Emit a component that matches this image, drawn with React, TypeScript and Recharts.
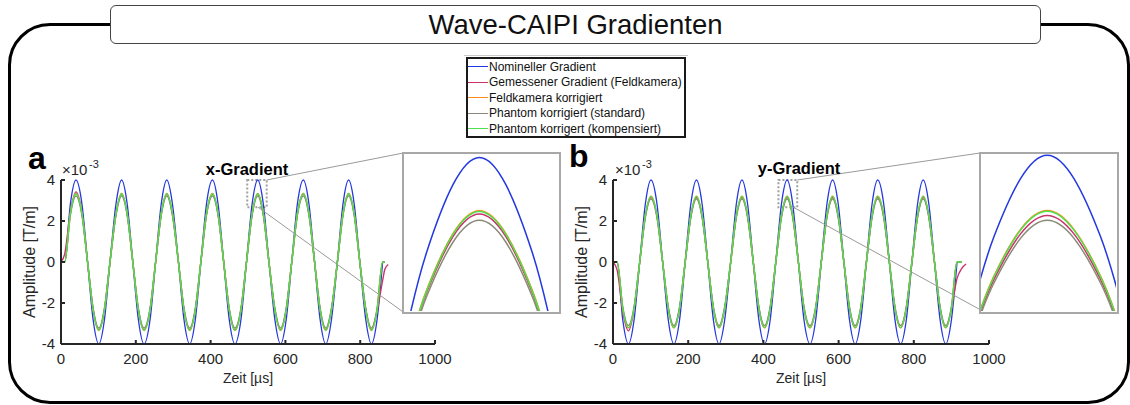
import React from "react";
import { LineChart, Line, XAxis, YAxis, Legend, ReferenceArea, ReferenceLine } from "recharts";

const FONT = '"Liberation Sans", Arial, Helvetica, sans-serif';
const INK = "#262626";

// Zeitachsen in µs, Amplituden in 10^-3 T/m
const A_TIME = [
  0, 10,
  25, 40, 56, 71, 86, 101, 116, 131,
  147, 162, 177, 192, 207, 222, 238, 253,
  268, 283, 298, 314, 329, 344, 359, 374,
  389, 405, 420, 435, 450, 465, 481, 496,
  511, 526, 541, 556, 572, 587, 602, 617,
  632, 648, 663, 678, 693, 708, 723, 739,
  754, 769, 784, 799, 815, 830, 845, 860,
  866, 875,
];

const A_NOM = [
  0, 0,
  2.83, 4, 2.83, 0, -2.83, -4, -2.83, 0,
  2.83, 4, 2.83, 0, -2.83, -4, -2.83, 0,
  2.83, 4, 2.83, 0, -2.83, -4, -2.83, 0,
  2.83, 4, 2.83, 0, -2.83, -4, -2.83, 0,
  2.83, 4, 2.83, 0, -2.83, -4, -2.83, 0,
  2.83, 4, 2.83, 0, -2.83, -4, -2.83, 0,
  2.83, 4, 2.83, 0, -2.83, -4, -2.83, 0,
  null, null,
];

const A_MESS = [
  0, 0.4,
  2.45, 3.42, 2.4, 0.02, -2.31, -3.3, -2.33, 0,
  2.33, 3.31, 2.33, 0, -2.33, -3.3, -2.33, 0,
  2.33, 3.31, 2.33, 0, -2.33, -3.3, -2.33, 0,
  2.33, 3.31, 2.33, 0, -2.33, -3.3, -2.33, 0,
  2.33, 3.3, 2.33, 0, -2.33, -3.3, -2.33, 0,
  2.33, 3.31, 2.33, 0, -2.33, -3.3, -2.33, 0,
  2.33, 3.31, 2.33, 0, -2.33, -3.3, -2.4, -0.9,
  -0.35, -0.12,
];

const A_FELD = [
  0, 0,
  2.36, 3.34, 2.36, 0, -2.36, -3.34, -2.36, 0,
  2.36, 3.34, 2.36, 0, -2.36, -3.34, -2.36, 0,
  2.36, 3.34, 2.36, 0, -2.36, -3.34, -2.36, 0,
  2.36, 3.34, 2.36, 0, -2.36, -3.34, -2.36, 0,
  2.36, 3.34, 2.36, 0, -2.36, -3.34, -2.36, 0,
  2.36, 3.34, 2.36, 0, -2.36, -3.34, -2.36, 0,
  2.36, 3.34, 2.36, 0, -2.36, -3.34, -2.36, 0,
  0, null,
];

const A_STD = [
  0, 0,
  2.28, 3.22, 2.28, 0, -2.28, -3.22, -2.28, 0,
  2.28, 3.22, 2.28, 0, -2.28, -3.22, -2.28, 0,
  2.28, 3.22, 2.28, 0, -2.28, -3.22, -2.28, 0,
  2.28, 3.22, 2.28, 0, -2.28, -3.22, -2.28, 0,
  2.28, 3.22, 2.28, 0, -2.28, -3.22, -2.28, 0,
  2.28, 3.22, 2.28, 0, -2.28, -3.22, -2.28, 0,
  2.28, 3.22, 2.28, 0, -2.28, -3.22, -2.28, 0,
  0, null,
];

const A_KOMP = [
  0, 0,
  2.35, 3.33, 2.35, 0, -2.35, -3.33, -2.35, 0,
  2.35, 3.33, 2.35, 0, -2.35, -3.33, -2.35, 0,
  2.35, 3.33, 2.35, 0, -2.35, -3.33, -2.35, 0,
  2.35, 3.33, 2.35, 0, -2.35, -3.33, -2.35, 0,
  2.35, 3.33, 2.35, 0, -2.35, -3.33, -2.35, 0,
  2.35, 3.33, 2.35, 0, -2.35, -3.33, -2.35, 0,
  2.35, 3.33, 2.35, 0, -2.35, -3.33, -2.35, 0,
  0, null,
];

const B_TIME = [
  0, 11,
  26, 41, 56, 71, 86, 101, 117, 132,
  147, 162, 177, 192, 207, 222, 237, 252,
  267, 282, 297, 313, 328, 343, 358, 373,
  388, 403, 418, 433, 448, 463, 478, 493,
  508, 524, 539, 554, 569, 584, 599, 614,
  629, 644, 659, 674, 689, 704, 720, 735,
  750, 765, 780, 795, 810, 825, 840, 855,
  870, 885, 900, 915,
  928, 939,
];

const B_NOM = [
  0, 0,
  -2.83, -4, -2.83, 0, 2.83, 4, 2.83, 0,
  -2.83, -4, -2.83, 0, 2.83, 4, 2.83, 0,
  -2.83, -4, -2.83, 0, 2.83, 4, 2.83, 0,
  -2.83, -4, -2.83, 0, 2.83, 4, 2.83, 0,
  -2.83, -4, -2.83, 0, 2.83, 4, 2.83, 0,
  -2.83, -4, -2.83, 0, 2.83, 4, 2.83, 0,
  -2.83, -4, -2.83, 0, 2.83, 4, 2.83, 0,
  -2.83, -4, -2.83, 0,
  null, null,
];

const B_MESS = [
  0, -0.4,
  -2.42, -3.36, -2.3, -0.02, 2.22, 3.14, 2.22, 0,
  -2.26, -3.2, -2.26, 0, 2.22, 3.14, 2.22, 0,
  -2.26, -3.2, -2.26, 0, 2.22, 3.14, 2.22, 0,
  -2.26, -3.2, -2.26, 0, 2.22, 3.14, 2.22, 0,
  -2.26, -3.2, -2.26, 0, 2.22, 3.14, 2.22, 0,
  -2.26, -3.2, -2.26, 0, 2.22, 3.14, 2.22, 0,
  -2.26, -3.2, -2.26, 0, 2.22, 3.14, 2.22, 0,
  -2.26, -3.2, -2.3, -0.8,
  -0.3, -0.1,
];

const B_FELD = [
  0, 0,
  -2.27, -3.21, -2.27, 0, 2.27, 3.21, 2.27, 0,
  -2.27, -3.21, -2.27, 0, 2.27, 3.21, 2.27, 0,
  -2.27, -3.21, -2.27, 0, 2.27, 3.21, 2.27, 0,
  -2.27, -3.21, -2.27, 0, 2.27, 3.21, 2.27, 0,
  -2.27, -3.21, -2.27, 0, 2.27, 3.21, 2.27, 0,
  -2.27, -3.21, -2.27, 0, 2.27, 3.21, 2.27, 0,
  -2.27, -3.21, -2.27, 0, 2.27, 3.21, 2.27, 0,
  -2.27, -3.21, -2.27, 0,
  0, null,
];

const B_STD = [
  0, 0,
  -2.19, -3.1, -2.19, 0, 2.17, 3.07, 2.17, 0,
  -2.19, -3.1, -2.19, 0, 2.17, 3.07, 2.17, 0,
  -2.19, -3.1, -2.19, 0, 2.17, 3.07, 2.17, 0,
  -2.19, -3.1, -2.19, 0, 2.17, 3.07, 2.17, 0,
  -2.19, -3.1, -2.19, 0, 2.17, 3.07, 2.17, 0,
  -2.19, -3.1, -2.19, 0, 2.17, 3.07, 2.17, 0,
  -2.19, -3.1, -2.19, 0, 2.17, 3.07, 2.17, 0,
  -2.19, -3.1, -2.19, 0,
  0, null,
];

const B_KOMP = [
  0, 0,
  -2.26, -3.2, -2.26, 0, 2.26, 3.2, 2.26, 0,
  -2.26, -3.2, -2.26, 0, 2.26, 3.2, 2.26, 0,
  -2.26, -3.2, -2.26, 0, 2.26, 3.2, 2.26, 0,
  -2.26, -3.2, -2.26, 0, 2.26, 3.2, 2.26, 0,
  -2.26, -3.2, -2.26, 0, 2.26, 3.2, 2.26, 0,
  -2.26, -3.2, -2.26, 0, 2.26, 3.2, 2.26, 0,
  -2.26, -3.2, -2.26, 0, 2.26, 3.2, 2.26, 0,
  -2.26, -3.2, -2.26, 0,
  0, null,
];

const X_TICKS = [0, 200, 400, 600, 800, 1000];
const Y_TICKS = [-4, -2, 0, 2, 4];

// Zoom-Fenster (gepunktetes Rechteck) und Ausschnitte der Vergrößerungen
const ZOOM_A = { x1: 498, x2: 550, y1: 2.67, y2: 4 };
const ZOOM_B = { x1: 440, x2: 490, y1: 2.67, y2: 4 };
const INSET_A = { x: [504.5, 548.4], y: [2.095, 4.043] };
const INSET_B = { x: [444.4, 482.3], y: [1.774, 4.017] };
const LINKS_A = [
  [{ x: 550, y: 4 }, { x: 916, y: 5.32 }],
  [{ x: 527, y: 2.67 }, { x: 915, y: -2.44 }],
];
const LINKS_B = [
  [{ x: 490, y: 4 }, { x: 977, y: 5.32 }],
  [{ x: 479.5, y: 2.67 }, { x: 977, y: -2.33 }],
];

const SERIES = [
  { key: "nom", name: "Nomineller Gradient", color: "#2238e0", width: 1.3 },
  { key: "mess", name: "Gemessener Gradient (Feldkamera)", color: "#c8336b", width: 1.4 },
  { key: "feld", name: "Feldkamera korrigiert", color: "#ff8c1a", width: 1.4 },
  { key: "std", name: "Phantom korrigiert (standard)", color: "#8a8a78", width: 1.4 },
  { key: "komp", name: "Phantom korrigert (kompensiert)", color: "#4ee04e", width: 1.4 },
];

const rowsA = A_TIME.map((t, i) => ({
  t, nom: A_NOM[i], mess: A_MESS[i], feld: A_FELD[i], std: A_STD[i], komp: A_KOMP[i],
}));
const rowsB = B_TIME.map((t, i) => ({
  t, nom: B_NOM[i], mess: B_MESS[i], feld: B_FELD[i], std: B_STD[i], komp: B_KOMP[i],
}));

function LegendBox(props: any) {
  const payload = props.payload || [];
  // Reihenfolge wie im Original (Zeichenreihenfolge der Linien)
  const items = SERIES.filter((s) => payload.some((p: any) => p.value === s.name));
  return (
    <div
      style={{
        width: 220, height: 81, boxSizing: "border-box", border: "2px solid #1a1a1a",
        background: "#fff", fontFamily: FONT, fontSize: 12, color: "#111",
      }}
    >
      {items.map((it) => (
        <div key={it.key} style={{ display: "flex", alignItems: "center", height: 15.5, whiteSpace: "nowrap" }}>
          <span style={{ display: "inline-block", width: 20, borderTop: `1.5px solid ${it.color}`, marginRight: 1 }} />
          {it.name}
        </div>
      ))}
    </div>
  );
}

function Panel({ rows, left, width, zoom, links, withLegend }: any) {
  return (
    <div style={{ position: "absolute", left, top: 140 }}>
      <LineChart
        width={width}
        height={260}
        data={rows}
        margin={{ top: 40, right: 30, bottom: 0, left: 0 }}
        style={{ fontFamily: FONT }}
      >
        <XAxis
          type="number"
          dataKey="t"
          domain={[0, 1000]}
          ticks={X_TICKS}
          interval={0}
          height={56}
          tickSize={-4}
          tickMargin={13}
          axisLine={{ stroke: INK, strokeWidth: 2 }}
          tickLine={{ stroke: INK, strokeWidth: 2 }}
          tick={{ fill: INK, fontSize: 15 }}
          label={{ value: "Zeit [µs]", position: "insideBottom", offset: 17, fill: INK, fontSize: 14 }}
        />
        <YAxis
          type="number"
          domain={[-4, 4]}
          ticks={Y_TICKS}
          interval={0}
          width={61}
          tickSize={-4}
          tickMargin={10}
          axisLine={{ stroke: INK, strokeWidth: 2 }}
          tickLine={{ stroke: INK, strokeWidth: 2 }}
          tick={{ fill: INK, fontSize: 15 }}
          label={{
            value: "Amplitude [T/m]", angle: -90, position: "insideLeft", offset: 29,
            fill: INK, fontSize: 16, style: { textAnchor: "middle" },
          }}
        />
        {SERIES.map((s) => (
          <Line
            key={s.key}
            type="monotone"
            dataKey={s.key}
            name={s.name}
            stroke={s.color}
            strokeWidth={s.width}
            dot={false}
            activeDot={false}
            isAnimationActive={false}
          />
        ))}
        <ReferenceArea
          x1={zoom.x1} x2={zoom.x2} y1={zoom.y1} y2={zoom.y2}
          ifOverflow="visible" fill="none" fillOpacity={0}
          stroke="#a0a0a0" strokeWidth={2} strokeDasharray="2 2"
        />
        {links.map((seg: any, i: number) => (
          <ReferenceLine key={i} segment={seg} ifOverflow="visible" stroke="#9a9a9a" strokeWidth={1} />
        ))}
        {withLegend && (
          <Legend
            content={<LegendBox />}
            layout="vertical"
            align="center"
            verticalAlign="middle"
            wrapperStyle={{ left: 466, top: -83, width: 220 }}
          />
        )}
      </LineChart>
    </div>
  );
}

function Inset({ rows, view, left, top, width, height }: any) {
  return (
    <div
      style={{
        position: "absolute", left, top, width, height, border: "2.5px solid #a8a8a8",
        background: "#fff", boxSizing: "border-box",
      }}
    >
      <LineChart width={width - 5} height={height - 5} data={rows} margin={{ top: 0, right: 0, bottom: 0, left: 0 }}>
        <XAxis type="number" dataKey="t" domain={view.x} allowDataOverflow hide />
        <YAxis type="number" domain={view.y} allowDataOverflow hide />
        {SERIES.map((s) => (
          <Line
            key={s.key}
            type="monotone"
            dataKey={s.key}
            stroke={s.color}
            strokeWidth={1.5}
            dot={false}
            activeDot={false}
            isAnimationActive={false}
          />
        ))}
      </LineChart>
    </div>
  );
}

export default function App() {
  return (
    <div
      style={{
        position: "absolute", left: 0, top: 0, width: 1130, height: 405,
        background: "#fff", fontFamily: FONT, overflow: "hidden",
      }}
    >
      <div
        style={{
          position: "absolute", left: 8, top: 23, width: 1122, height: 381,
          border: "3.5px solid #000", borderRadius: 42, boxSizing: "border-box",
        }}
      />

      <Panel rows={rowsA} left={0} width={465} zoom={ZOOM_A} links={LINKS_A} withLegend />
      <Panel rows={rowsB} left={552} width={467} zoom={ZOOM_B} links={LINKS_B} />

      <Inset rows={rowsA} view={INSET_A} left={402} top={152} width={159} height={162} />
      <Inset rows={rowsB} view={INSET_B} left={979} top={152} width={140} height={162} />

      <div style={{ position: "absolute", left: 464, top: 55, width: 224, height: 0, borderTop: "1px solid #c8c8c8" }} />

      <svg width={1130} height={405} style={{ position: "absolute", left: 0, top: 0, pointerEvents: "none" }}>
        <text x={28} y={169} fontSize={32} fontWeight="bold" fill="#000" fontFamily={FONT}>a</text>
        <text x={569} y={167} fontSize={32} fontWeight="bold" fill="#000" fontFamily={FONT}>b</text>
        <text x={247} y={175} fontSize={16.5} fontWeight="bold" fill="#000" textAnchor="middle" fontFamily={FONT}>x-Gradient</text>
        <text x={799} y={174} fontSize={16.5} fontWeight="bold" fill="#000" textAnchor="middle" fontFamily={FONT}>y-Gradient</text>
        <text x={62} y={175} fontSize={15} fill={INK} fontFamily={FONT}>×10</text>
        <text x={89} y={168} fontSize={11} fill={INK} fontFamily={FONT}>-3</text>
        <text x={615} y={175} fontSize={15} fill={INK} fontFamily={FONT}>×10</text>
        <text x={642} y={168} fontSize={11} fill={INK} fontFamily={FONT}>-3</text>
      </svg>

      <div
        style={{
          position: "absolute", left: 110, top: 5, width: 931, height: 39,
          border: "1px solid #444", borderRadius: 6, background: "#fff", boxSizing: "border-box",
          display: "flex", alignItems: "center", justifyContent: "center",
          fontSize: 27.5, color: "#111", fontFamily: FONT,
        }}
      >
        Wave-CAIPI Gradienten
      </div>
    </div>
  );
}
